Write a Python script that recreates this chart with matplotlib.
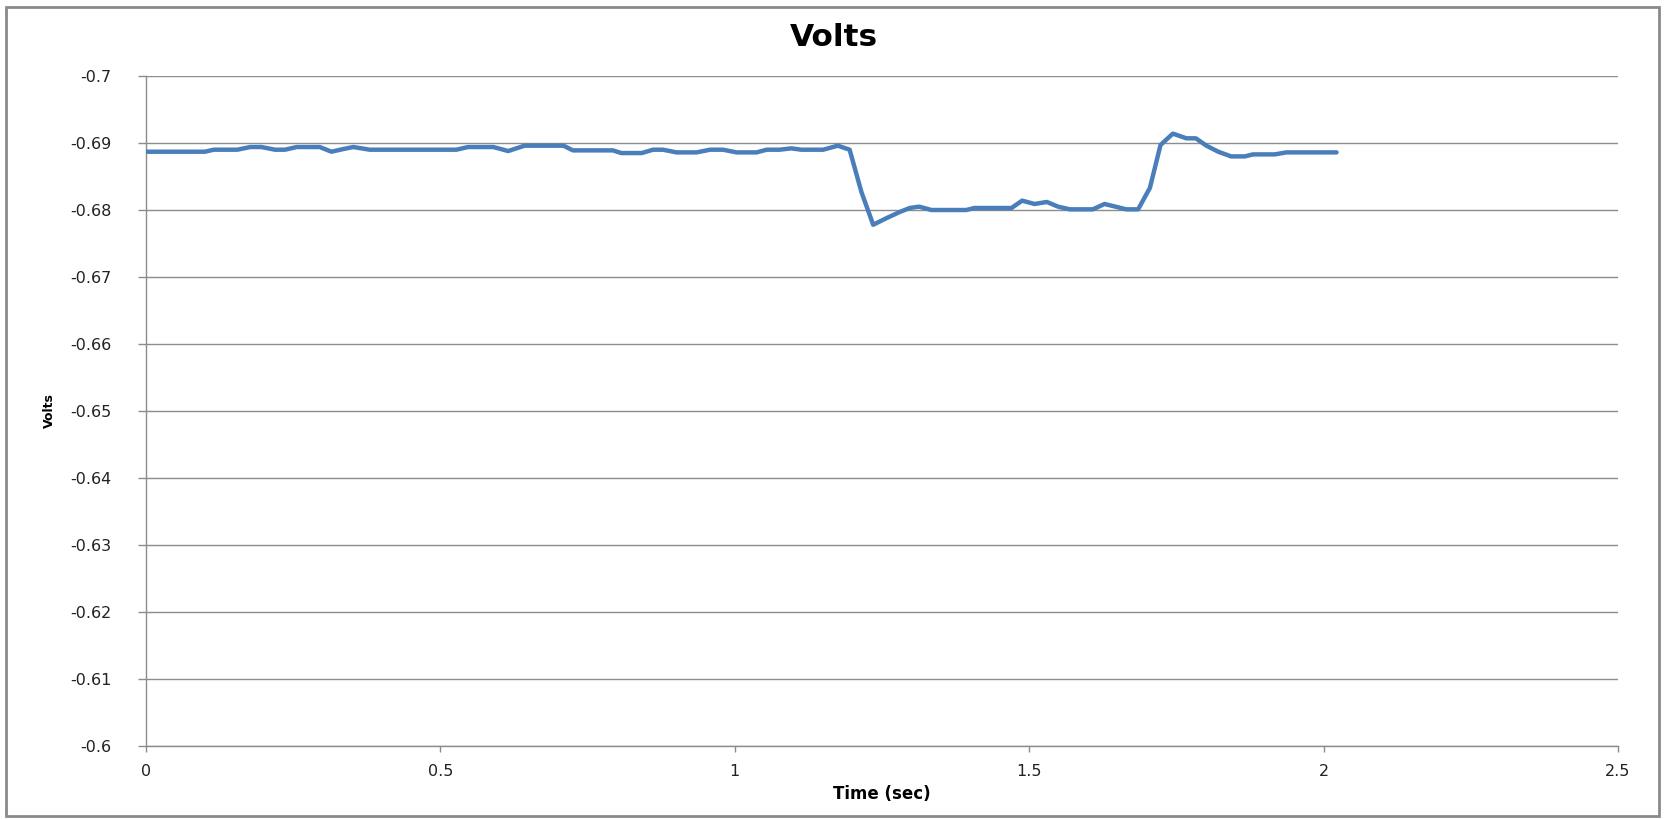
import matplotlib
matplotlib.use("Agg")
import matplotlib.pyplot as plt
from matplotlib.patches import Rectangle
from matplotlib.ticker import FuncFormatter

plt.rcParams["axes.unicode_minus"] = False
plt.rcParams["font.family"] = ["DejaVu Sans"]

# Recorded voltage trace (time in seconds, volts)
time_sec = [
    0.000, 0.100, 0.115, 0.155, 0.177, 0.196, 0.219, 0.236, 0.256, 0.295,
    0.315, 0.335, 0.352, 0.380, 0.527, 0.547, 0.590, 0.615, 0.643, 0.709,
    0.725, 0.793, 0.807, 0.842, 0.861, 0.878, 0.901, 0.935, 0.958, 0.980,
    1.003, 1.037, 1.054, 1.076, 1.096, 1.113, 1.150, 1.175, 1.195, 1.215,
    1.235, 1.258, 1.280, 1.297, 1.313, 1.334, 1.393, 1.407, 1.470, 1.488,
    1.509, 1.530, 1.549, 1.569, 1.608, 1.628, 1.665, 1.685, 1.705, 1.723,
    1.744, 1.767, 1.783, 1.801, 1.821, 1.843, 1.866, 1.880, 1.917, 1.937,
    2.022,
]
volts = [
    -0.6887, -0.6887, -0.6890, -0.6890, -0.6894, -0.6894, -0.6890, -0.6890, -0.6894, -0.6894,
    -0.6887, -0.6891, -0.6894, -0.6890, -0.6890, -0.6894, -0.6894, -0.6888, -0.6896, -0.6896,
    -0.6889, -0.6889, -0.6885, -0.6885, -0.6890, -0.6890, -0.6886, -0.6886, -0.6890, -0.6890,
    -0.6886, -0.6886, -0.6890, -0.6890, -0.6892, -0.6890, -0.6890, -0.6896, -0.6890, -0.6827,
    -0.6778, -0.6788, -0.6797, -0.6803, -0.6805, -0.6800, -0.6800, -0.6803, -0.6803, -0.6814,
    -0.6809, -0.6812, -0.6805, -0.6801, -0.6801, -0.6809, -0.6801, -0.6801, -0.6833, -0.6897,
    -0.6914, -0.6907, -0.6907, -0.6896, -0.6887, -0.6880, -0.6880, -0.6883, -0.6883, -0.6886,
    -0.6886,
]

x_ticks = [0, 0.5, 1, 1.5, 2, 2.5]
y_ticks = [-0.7, -0.69, -0.68, -0.67, -0.66, -0.65, -0.64, -0.63, -0.62, -0.61, -0.6]

line_color = "#4a7ebb"
grid_color = "#8c8c8c"

fig = plt.figure(figsize=(16.67, 8.19), dpi=100)
fig.patch.set_facecolor("white")

# Outer chart frame
fig.patches.append(Rectangle((0.0036, 0.004), 0.9916, 0.9875, transform=fig.transFigure,
                             fill=False, edgecolor="#8a8a8a", linewidth=2.0))

ax = fig.add_axes([0.0876, 0.0891, 0.8830, 0.8181])
ax.plot(time_sec, volts, color=line_color, linewidth=3.2, solid_joinstyle="round",
        solid_capstyle="round", zorder=3)

ax.set_xlim(0, 2.5)
ax.set_ylim(-0.6, -0.7)
ax.set_xticks(x_ticks)
ax.set_yticks(y_ticks)
fmt = FuncFormatter(lambda v, p: "%g" % round(v, 4))
ax.xaxis.set_major_formatter(fmt)
ax.yaxis.set_major_formatter(fmt)

ax.grid(axis="y", color=grid_color, linewidth=1.0)
ax.set_axisbelow(True)
for side in ("top", "right"):
    ax.spines[side].set_visible(False)
for side in ("left", "bottom"):
    ax.spines[side].set_color(grid_color)
    ax.spines[side].set_linewidth(1.0)

ax.tick_params(axis="y", direction="out", length=6, width=1, color=grid_color,
               labelsize=11.5, pad=19, labelcolor="#222222")
ax.tick_params(axis="x", direction="out", length=4, width=1, color=grid_color,
               labelsize=11.5, pad=9, labelcolor="#222222")

ax.set_xlabel("Time (sec)", fontsize=12, fontweight="bold", labelpad=4)
ax.set_ylabel("Volts", fontsize=9, fontweight="bold", labelpad=10)

fig.text(0.5, 1 - 38 / 819, "Volts", ha="center", va="center",
         fontsize=22.5, fontweight="bold")

fig.savefig("out.png", dpi=100, facecolor="white")
